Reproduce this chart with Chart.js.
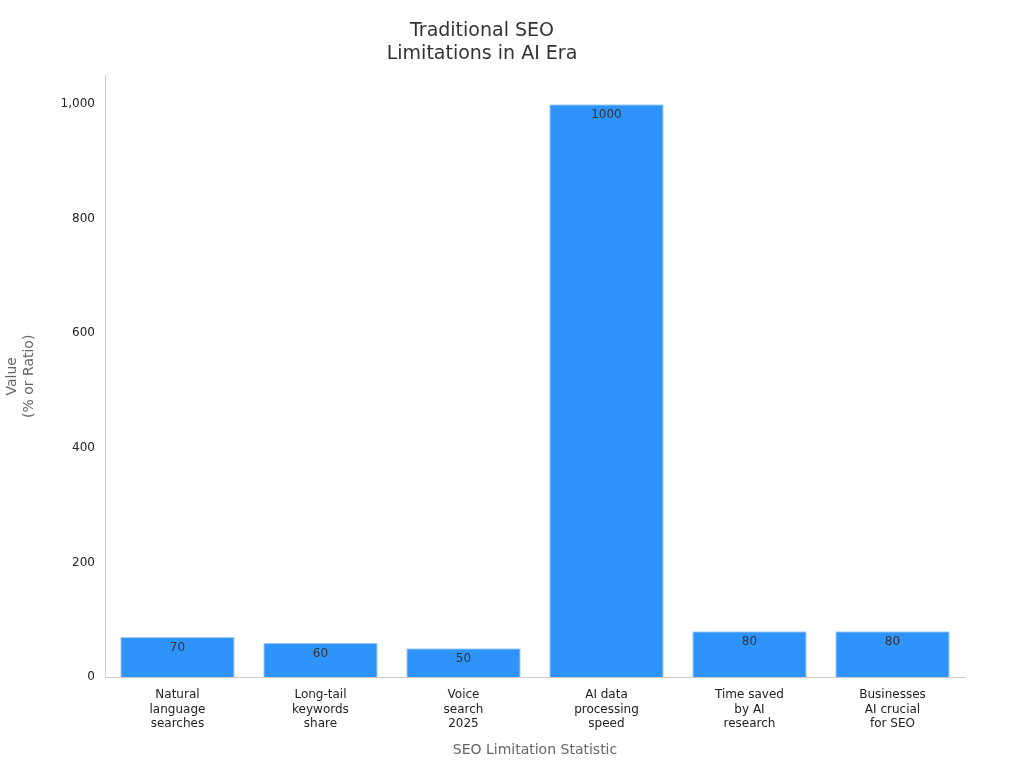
<!DOCTYPE html>
<html>
<head>
<meta charset="utf-8">
<script src="https://cdn.jsdelivr.net/npm/chart.js@4"></script>
<style>
  html, body { margin: 0; padding: 0; background: #fff; }
  #wrap { width: 1024px; height: 768px; }
</style>
</head>
<body>
<div id="wrap"><canvas id="chart" width="1024" height="768"></canvas></div>
<script>
const categories = [
  ['Natural', 'language', 'searches'],
  ['Long-tail', 'keywords', 'share'],
  ['Voice', 'search', '2025'],
  ['AI data', 'processing', 'speed'],
  ['Time saved', 'by AI', 'research'],
  ['Businesses', 'AI crucial', 'for SEO']
];
const values = [70, 60, 50, 1000, 80, 80];
const yTicks = [0, 200, 400, 600, 800, 1000];

const FONT = 'DejaVu Sans';

// value labels just under the top of each bar
const barLabels = {
  id: 'barLabels',
  afterDatasetsDraw(chart) {
    const ctx = chart.ctx;
    const meta = chart.getDatasetMeta(0);
    ctx.save();
    ctx.font = '12px ' + FONT;
    ctx.fillStyle = '#333';
    ctx.textAlign = 'center';
    ctx.textBaseline = 'top';
    meta.data.forEach((bar, i) => {
      ctx.fillText(String(values[i]), bar.x, bar.y + 5);
    });
    ctx.restore();
  }
};

new Chart(document.getElementById('chart'), {
  type: 'bar',
  data: {
    labels: categories,
    datasets: [{
      data: values,
      backgroundColor: '#2e93fa',
      borderColor: '#a8cdf5',
      borderWidth: 1,
      categoryPercentage: 1,
      barPercentage: 0.8
    }]
  },
  options: {
    responsive: false,
    animation: false,
    layout: { padding: { left: 0, right: 60, top: 10, bottom: 5 } },
    plugins: {
      legend: { display: false },
      tooltip: { enabled: false },
      title: {
        display: true,
        text: ['Traditional SEO', 'Limitations in AI Era'],
        color: '#333',
        font: { family: FONT, size: 19, weight: 'normal', lineHeight: 1.2 },
        padding: { top: 10, bottom: 10 }
      }
    },
    scales: {
      x: {
        grid: { display: false, drawTicks: true },
        border: { color: '#ccc' },
        ticks: { color: '#222', font: { family: FONT, size: 12 }, maxRotation: 0, autoSkip: false },
        title: {
          display: true, text: 'SEO Limitation Statistic', color: '#666',
          font: { family: FONT, size: 14 }, padding: { top: 8 }
        }
      },
      y: {
        min: 0, max: 1050,
        afterBuildTicks(axis) { axis.ticks = yTicks.map(v => ({ value: v })); },
        grid: { display: false, drawTicks: true },
        border: { color: '#ccc' },
        ticks: { color: '#222', font: { family: FONT, size: 12 } },
        title: {
          display: true, text: ['Value', '(% or Ratio)'], color: '#666',
          font: { family: FONT, size: 14 }, padding: { bottom: 20 }
        }
      }
    }
  },
  plugins: [barLabels]
});
</script>
</body>
</html>
